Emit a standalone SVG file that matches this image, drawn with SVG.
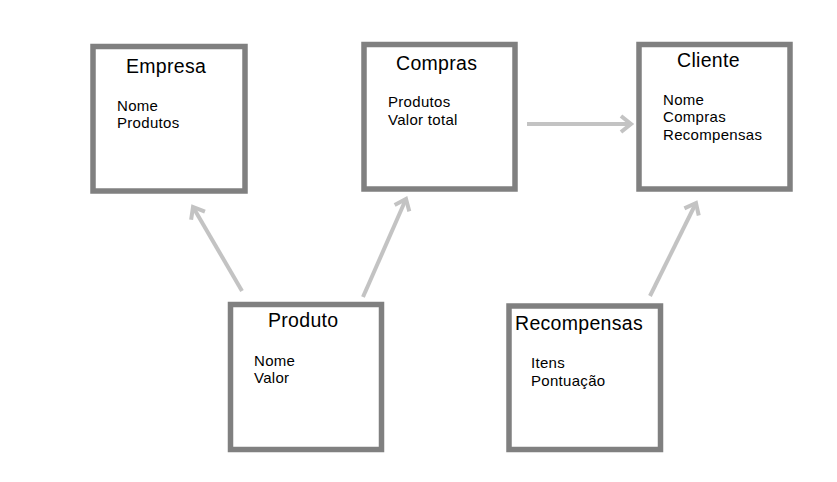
<svg xmlns="http://www.w3.org/2000/svg" width="837" height="482" viewBox="0 0 837 482">
<style>
.box{fill:#fff;stroke:#808080;stroke-width:5.5}
.title{font-family:"Liberation Sans",Arial,sans-serif;font-size:19.5px;letter-spacing:0.3px;fill:#000}
.body{font-family:"Liberation Sans",Arial,sans-serif;font-size:15px;letter-spacing:0.3px;fill:#000}
.conn{fill:none;stroke:#c3c3c3;stroke-width:4}
</style>
<defs>
<marker id="ah" markerUnits="userSpaceOnUse" viewBox="-14 -12 18 24" refX="0" refY="0" markerWidth="18" markerHeight="24" orient="auto">
<path d="M-10,-8 L0,0 L-10,8" fill="none" stroke="#c3c3c3" stroke-width="4"/>
</marker>
</defs>
<rect width="837" height="482" fill="#fff"/>
<g id="connectors">
<line class="conn" x1="242" y1="291" x2="193" y2="207" marker-end="url(#ah)"/>
<line class="conn" x1="363" y1="297" x2="406" y2="199" marker-end="url(#ah)"/>
<line class="conn" x1="527" y1="124" x2="631" y2="124" marker-end="url(#ah)"/>
<line class="conn" x1="650" y1="296" x2="696" y2="203" marker-end="url(#ah)"/>
</g>
<g id="empresa">
<rect class="box" x="93" y="46.5" width="152" height="144.5"/>
<text class="title" x="126" y="73">Empresa</text>
<text class="body" x="117" y="111">Nome</text>
<text class="body" x="117" y="128">Produtos</text>
</g>
<g id="compras">
<rect class="box" x="364" y="44.5" width="151" height="144.5"/>
<text class="title" x="396" y="70">Compras</text>
<text class="body" x="388" y="107">Produtos</text>
<text class="body" x="388" y="125">Valor total</text>
</g>
<g id="cliente">
<rect class="box" x="639" y="44.5" width="151" height="144.5"/>
<text class="title" x="677" y="67">Cliente</text>
<text class="body" x="663" y="105">Nome</text>
<text class="body" x="663" y="122">Compras</text>
<text class="body" x="663" y="140">Recompensas</text>
</g>
<g id="produto">
<rect class="box" x="230.5" y="304.5" width="151" height="145"/>
<text class="title" x="268" y="327">Produto</text>
<text class="body" x="254" y="366">Nome</text>
<text class="body" x="254" y="383">Valor</text>
</g>
<g id="recompensas">
<rect class="box" x="509" y="306" width="151.5" height="143.5"/>
<text class="title" x="515" y="330">Recompensas</text>
<text class="body" x="531" y="368">Itens</text>
<text class="body" x="531" y="386">Pontuação</text>
</g>
</svg>
